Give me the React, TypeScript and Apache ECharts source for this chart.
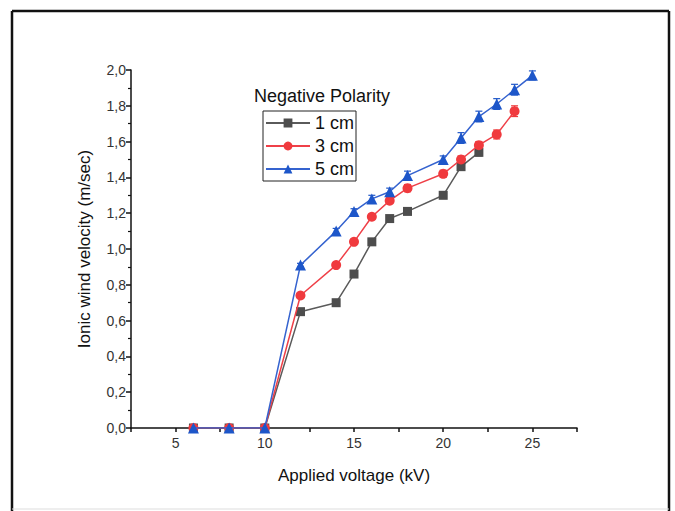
import React, { useEffect, useRef } from "react";
import * as echarts from "echarts";

const xGray = [6, 8, 10, 12, 14, 15, 16, 17, 18, 20, 21, 22];
const yGray = [0, 0, 0, 0.65, 0.70, 0.86, 1.04, 1.17, 1.21, 1.30, 1.46, 1.54];
const eGray = [0, 0, 0, 0.01, 0.01, 0.01, 0.01, 0.01, 0.01, 0.015, 0.02, 0.02];

const xRed = [6, 8, 10, 12, 14, 15, 16, 17, 18, 20, 21, 22, 23, 24];
const yRed = [0, 0, 0, 0.74, 0.91, 1.04, 1.18, 1.27, 1.34, 1.42, 1.50, 1.58, 1.64, 1.77];
const eRed = [0, 0, 0, 0.01, 0.01, 0.015, 0.015, 0.015, 0.02, 0.02, 0.02, 0.02, 0.025, 0.03];

const xBlue = [6, 8, 10, 12, 14, 15, 16, 17, 18, 20, 21, 22, 23, 24, 25];
const yBlue = [0, 0, 0, 0.91, 1.10, 1.21, 1.28, 1.32, 1.41, 1.50, 1.62, 1.74, 1.81, 1.89, 1.97];
const eBlue = [0, 0, 0, 0.01, 0.015, 0.015, 0.02, 0.02, 0.025, 0.02, 0.03, 0.03, 0.03, 0.03, 0.025];

const seriesNames = ["1 cm", "3 cm", "5 cm"];
const legendTitle = "Negative Polarity";
const xName = "Applied voltage (kV)";
const yName = "Ionic wind velocity (m/sec)";

const FONT = "Liberation Sans, Arial, sans-serif";

function pairs(xs: number[], ys: number[]) {
  return xs.map((x, i) => [x, ys[i]]);
}
function errs(xs: number[], ys: number[], es: number[]) {
  return xs
    .map((x, i) => [x, ys[i] - es[i], ys[i] + es[i], es[i]])
    .filter((d) => d[3] > 0);
}

function errSeries(data: number[][], color: string) {
  return {
    type: "custom",
    silent: true,
    z: 1,
    data,
    encode: { x: 0, y: [1, 2] },
    renderItem: (params: any, api: any) => {
      const x = api.value(0);
      const lo = api.value(1);
      const hi = api.value(2);
      const p1 = api.coord([x, hi]);
      const p2 = api.coord([x, lo]);
      const w = 3.5;
      const st = { stroke: color, lineWidth: 1.2 };
      return {
        type: "group",
        children: [
          { type: "line", shape: { x1: p1[0], y1: p1[1], x2: p2[0], y2: p2[1] }, style: st },
          { type: "line", shape: { x1: p1[0] - w, y1: p1[1], x2: p1[0] + w, y2: p1[1] }, style: st },
          { type: "line", shape: { x1: p2[0] - w, y1: p2[1], x2: p2[0] + w, y2: p2[1] }, style: st },
        ],
      };
    },
  };
}

export default function App() {
  const ref = useRef<HTMLDivElement>(null);
  useEffect(() => {
    if (!ref.current) return;
    const chart = echarts.init(ref.current, undefined, { renderer: "svg" });
    const axisCol = "#111";
    chart.setOption({
      animation: false,
      backgroundColor: "#ffffff",
      textStyle: { fontFamily: FONT },
      grid: { left: 131, right: 98, top: 70, bottom: 83, containLabel: false },
      legend: {
        data: seriesNames,
        orient: "vertical",
        left: 263,
        top: 111,
        borderColor: "#222",
        borderWidth: 1,
        padding: [3, 2, 3, 2],
        itemGap: 5,
        itemWidth: 44,
        itemHeight: 11,
        textStyle: { fontSize: 18, fontFamily: FONT, color: "#111", lineHeight: 18 },
      },
      graphic: [
        { type: "line", shape: { x1: 12, y1: 11, x2: 669, y2: 11 }, style: { stroke: "#111", lineWidth: 2.5 } },
        { type: "line", shape: { x1: 12, y1: 11, x2: 12, y2: 511 }, style: { stroke: "#111", lineWidth: 2.5 } },
        { type: "line", shape: { x1: 669, y1: 11, x2: 669, y2: 511 }, style: { stroke: "#111", lineWidth: 2.5 } },
        { type: "line", shape: { x1: 12, y1: 509, x2: 669, y2: 509 }, style: { stroke: "#ddd", lineWidth: 1 } },
        {
          type: "text",
          left: 254,
          top: 87,
          style: { text: legendTitle, fontSize: 18, fontFamily: FONT, fill: "#111" },
        },
      ],
      xAxis: {
        type: "value",
        min: 2.5,
        max: 27.5,
        interval: 2.5,
        name: xName,
        nameLocation: "middle",
        nameGap: 39,
        nameTextStyle: { fontSize: 17, color: "#111", fontFamily: FONT },
        splitLine: { show: false },
        axisLine: { onZero: false, lineStyle: { color: axisCol, width: 1.5 } },
        axisTick: { length: 4, lineStyle: { color: axisCol, width: 1.5 } },
        axisLabel: {
          fontSize: 14,
          color: "#333",
          margin: 8,
          fontFamily: FONT,
          formatter: (v: number) => (Math.abs(v % 5) < 1e-9 ? String(v) : ""),
        },
      },
      yAxis: {
        type: "value",
        min: 0,
        max: 2,
        interval: 0.2,
        name: yName,
        nameLocation: "middle",
        nameGap: 38,
        nameTextStyle: { fontSize: 17, color: "#111", fontFamily: FONT },
        splitLine: { show: false },
        axisLine: { show: true, lineStyle: { color: axisCol, width: 1.5 } },
        axisTick: { length: 5, lineStyle: { color: axisCol, width: 1.5 } },
        minorTick: { show: true, splitNumber: 2, length: 3, lineStyle: { color: axisCol, width: 1.2 } },
        minorSplitLine: { show: false },
        axisLabel: {
          fontSize: 14,
          color: "#333",
          margin: 5,
          fontFamily: FONT,
          formatter: (v: number) => v.toFixed(1).replace(".", ","),
        },
      },
      series: [
        errSeries(errs(xGray, yGray, eGray), "#555"),
        errSeries(errs(xRed, yRed, eRed), "#ee3b3b"),
        errSeries(errs(xBlue, yBlue, eBlue), "#2158c8"),
        {
          name: seriesNames[0],
          type: "line",
          z: 3,
          data: pairs(xGray, yGray),
          symbol: "rect",
          symbolSize: 9,
          lineStyle: { color: "#5a5a5a", width: 1.5 },
          itemStyle: { color: "#4d4d4d" },
          color: "#4d4d4d",
        },
        {
          name: seriesNames[1],
          type: "line",
          z: 4,
          data: pairs(xRed, yRed),
          symbol: "circle",
          symbolSize: 10,
          lineStyle: { color: "#ef4048", width: 1.5 },
          itemStyle: { color: "#f03a3e" },
          color: "#f03a3e",
        },
        {
          name: seriesNames[2],
          type: "line",
          z: 5,
          data: pairs(xBlue, yBlue),
          symbol: "triangle",
          symbolSize: 11,
          lineStyle: { color: "#3563cf", width: 1.5 },
          itemStyle: { color: "#1d56c9" },
          color: "#1d56c9",
        },
      ],
    });
    return () => chart.dispose();
  }, []);
  return (
    <div
      ref={ref}
      style={{ position: "fixed", left: 0, top: 0, width: 675, height: 511, background: "#fff" }}
    />
  );
}
